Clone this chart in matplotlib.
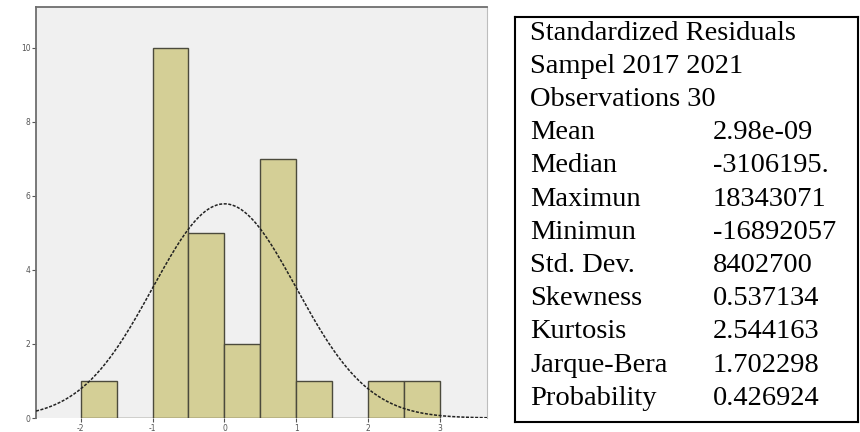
import matplotlib
matplotlib.use("Agg")
import matplotlib.pyplot as plt
import numpy as np

# histogram of standardized residuals (bin edges in std units, counts per bin)
bin_edges = [-2.0, -1.5, -1.0, -0.5, 0.0, 0.5, 1.0, 1.5, 2.0, 2.5, 3.0]
counts    = [1, 0, 10, 5, 2, 7, 1, 0, 1, 1]
x_ticks   = [-2, -1, 0, 1, 2, 3]
y_ticks   = [0, 2, 4, 6, 8, 10]
n_obs     = 29
curve_mu, curve_sd = 0.0, 1.0

stat_names  = ["Mean", "Median", "Maximun", "Minimun", "Std. Dev.",
               "Skewness", "Kurtosis", "Jarque-Bera", "Probability"]
stat_values = ["2.98e-09", "-3106195.", "18343071", "-16892057", "8402700",
               "0.537134", "2.544163", "1.702298", "0.426924"]
header_rows = ["Standardized Residuals", "Sampel 2017 2021", "Observations 30"]

BAR = "#d4cf96"; EDGE = "#4b4a3c"; PANEL = "#f0f0f0"; FRAME = "#6e6e6e"

W, H = 860, 432
fig = plt.figure(figsize=(W/100, H/100), dpi=100)
fig.patch.set_facecolor("white")

ax = fig.add_axes([36/W, 14/H, 451/W, 411/H])
ax.set_facecolor(PANEL)
widths = np.diff(bin_edges)
ax.bar(bin_edges[:-1], counts, width=widths, align="edge",
       color=BAR, edgecolor=EDGE, linewidth=1.0, zorder=2)

bw = widths[0]
xs = np.linspace(-2.62, 3.65, 300)
ys = n_obs*bw/(curve_sd*np.sqrt(2*np.pi))*np.exp(-0.5*((xs-curve_mu)/curve_sd)**2)
ax.plot(xs, ys, color="#222222", lw=1.1, ls=(0, (2, 1)), zorder=3)

ax.set_xlim(-2.62, 3.65)
ax.set_ylim(0, 11.1)
ax.set_xticks(x_ticks)
ax.set_yticks(y_ticks)
ax.set_xticklabels([str(t) for t in x_ticks])
ax.set_yticklabels([str(t) for t in y_ticks])
ax.tick_params(axis="both", labelsize=5.5, colors="#555555", length=3, width=0.8, pad=1)
ax.spines["left"].set_color(FRAME); ax.spines["top"].set_color(FRAME)
ax.spines["right"].set_color("#bdbdbd"); ax.spines["bottom"].set_visible(False)
for s in ("left", "top"):
    ax.spines[s].set_linewidth(1.3)

# summary statistics box
tx = fig.add_axes([515/W, 10/H, 343/W, 405/H])
tx.set_xticks([]); tx.set_yticks([])
for s in tx.spines.values():
    s.set_color("black"); s.set_linewidth(1.5)
tx.set_xlim(0, 343); tx.set_ylim(405, 0)

rows = [(r, "") for r in header_rows] + list(zip(stat_names, stat_values))
y0, dy = 33 - 17, 33.2
for i, (name, val) in enumerate(rows):
    y = y0 + i*dy
    tx.text(15, y, name, fontsize=20.5, family="Liberation Serif", va="center", ha="left")
    if val:
        tx.text(198, y, val, fontsize=20.5, family="Liberation Serif", va="center", ha="left")

fig.savefig("out.png", dpi=100)
